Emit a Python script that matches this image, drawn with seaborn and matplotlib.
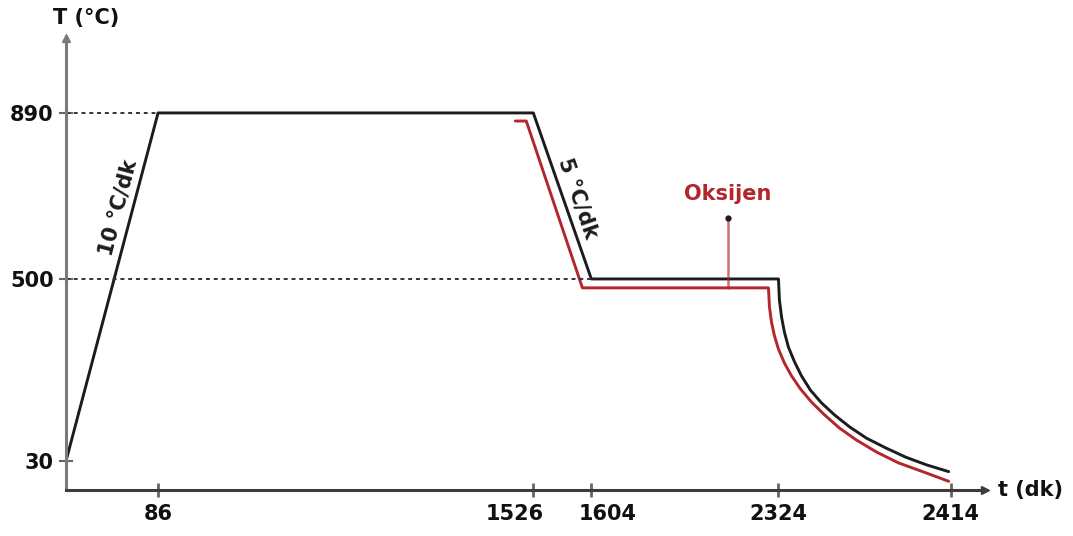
import numpy as np
import pandas as pd
import matplotlib
matplotlib.use("Agg")
import matplotlib.pyplot as plt
import matplotlib.transforms as mtransforms
import seaborn as sns

sns.set_theme(style="white")
plt.rcParams["font.family"] = ["DejaVu Sans"]

# Heat-treatment profile: time (dk) and temperature (°C)
main_time = [0, 86, 1526, 1604, 2324,
             2324.5, 2325.6, 2327.1, 2329.2, 2332.4, 2336.0, 2340.7, 2346.5,
             2353.3, 2361.2, 2370.0, 2380.0, 2390.5, 2401.4, 2413.0]
main_temp = [30, 890, 890, 500, 500,
             446, 402, 363, 324, 286, 250, 213, 180,
             149, 118, 89, 64, 40, 26, 19]

# Oxygen-atmosphere profile
oxy_time = [1457, 1499, 1592, 2285.5,
            2289.3, 2297.0, 2308.6, 2324.0, 2327.1, 2330.8, 2335.5, 2341.3,
            2348.1, 2355.9, 2364.8, 2375.3, 2386.8, 2399.4, 2413.0]
oxy_temp = [871, 871, 477, 477,
            428, 389, 353, 319, 283, 250, 216, 182,
            149, 115, 84, 53, 28, 19, 9]

time_ticks = [86, 1526, 1604, 2324, 2414]
temp_ticks = [30, 500, 890]

BLACK = "#1c1c1c"
RED = "#b3262b"
TXT = "#111111"

# Schematic (piecewise-linear) axes: breakpoints of the process spaced for readability
x_knots = np.array([-100, 0, 86, 1526, 1604, 2324, 2414, 2600])
x_pos = np.array([-100, 0, 92, 467, 525, 712, 884, 884 + 186 * 1.911])
y_knots = np.array([-100, 0, 30, 500, 890, 1200])
y_pos = np.array([-100, 0, 29, 211, 377, 377 + 310 * 0.4256])


def xf(v):
    return np.interp(v, x_knots, x_pos)


def xi(v):
    return np.interp(v, x_pos, x_knots)


def yf(v):
    return np.interp(v, y_knots, y_pos)


def yi(v):
    return np.interp(v, y_pos, y_knots)


main_df = pd.DataFrame({"t": main_time, "T": main_temp})
oxy_df = pd.DataFrame({"t": oxy_time, "T": oxy_temp})

fig = plt.figure(figsize=(10.73, 5.36), dpi=100)
ax = fig.add_axes([66 / 1073, 46 / 536, 919 / 1073, 452 / 536])

sns.lineplot(data=main_df, x="t", y="T", sort=False, estimator=None,
             color=BLACK, linewidth=2.1, ax=ax)
sns.lineplot(data=oxy_df, x="t", y="T", sort=False, estimator=None,
             color=RED, linewidth=2.1, ax=ax)

ax.set_xscale("function", functions=(xf, xi))
ax.set_yscale("function", functions=(yf, yi))
ax.set_xlim(0, 2432)
ax.set_ylim(0, 1066)

# Dotted guide lines to the temperature levels
ax.plot([0, 86], [890, 890], color="#333333", lw=1.4, ls=(0, (2, 2)))
ax.plot([0, 1604], [500, 500], color="#333333", lw=1.4, ls=(0, (2, 2)))

# Oxygen pointer
ax.plot([2128, 2128], [477, 643], color=RED, alpha=0.65, lw=1.8)
ax.plot([2128], [643], marker="o", ms=3.5, color=BLACK)
ax.text(2128, 700, "Oksijen", color=RED, fontsize=15, fontweight="bold",
        ha="center", va="center")

# Rate labels along the ramps
ax.text(48.6, 667, "10 °C/dk", rotation=75.2, rotation_mode="anchor",
        ha="center", va="center", fontsize=15, fontweight="bold", color=BLACK)
ax.text(1586.5, 690, "5 °C/dk", rotation=-70.7, rotation_mode="anchor",
        ha="center", va="center", fontsize=15, fontweight="bold", color=BLACK)

# Axes styling
for side in ["top", "right"]:
    ax.spines[side].set_visible(False)
ax.spines["left"].set_color("#7a7a7a")
ax.spines["left"].set_linewidth(2.2)
ax.spines["bottom"].set_color("#3d3d3d")
ax.spines["bottom"].set_linewidth(2.2)

ax.set_xticks(time_ticks)
ax.set_xticklabels([str(v) for v in time_ticks])
ax.set_yticks(temp_ticks)
ax.set_yticklabels([str(v) for v in temp_ticks])
ax.minorticks_off()
ax.tick_params(axis="x", bottom=True, direction="inout", length=10, width=2,
               color="#666666", labelsize=15, pad=5, labelcolor=TXT)
ax.tick_params(axis="y", left=True, direction="inout", length=10, width=1.5,
               color="#666666", labelsize=15, pad=4, labelcolor=TXT)
for lab in ax.get_xticklabels() + ax.get_yticklabels():
    lab.set_fontweight("bold")

# Nudge the two crowded labels apart
shifts = {"1526": -19, "1604": 16}
for lab in ax.get_xticklabels():
    dx = shifts.get(lab.get_text(), 0)
    if dx:
        lab.set_transform(lab.get_transform() +
                          mtransforms.ScaledTranslation(dx / 100, 0, fig.dpi_scale_trans))
ax.set_xlabel("")
ax.set_ylabel("")

# Arrow heads on the axes
ax.plot(1, 0, marker=">", ms=6, color="#3d3d3d", transform=ax.transAxes, clip_on=False)
ax.plot(0, 1, marker="^", ms=6, color="#7a7a7a", transform=ax.transAxes, clip_on=False)

fig.text(86 / 1073, 1 - 18 / 536, "T (°C)", ha="center", va="center",
         fontsize=15, fontweight="bold", color=TXT)
fig.text(1030 / 1073, 1 - 490 / 536, "t (dk)", ha="center", va="center",
         fontsize=15, fontweight="bold", color=TXT)

fig.savefig("out.png", dpi=100)
